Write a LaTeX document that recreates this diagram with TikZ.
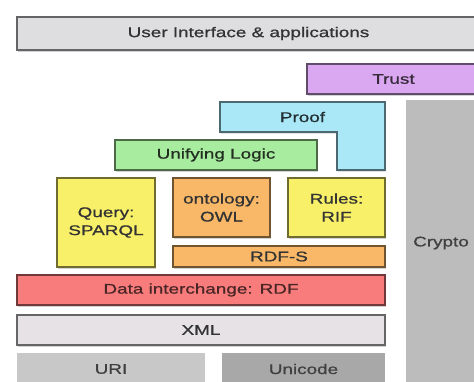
\documentclass[tikz,border=0pt]{standalone}
\usepackage{fontspec}
\setmainfont{Liberation Sans}[FakeStretch=1.35, FakeBold=0.9]
\usepackage{tikz}
\usetikzlibrary{shadows}
\definecolor{UIgray}{RGB}{222,221,224}
\definecolor{TrustLila}{RGB}{218,168,240}
\definecolor{ProofCyan}{RGB}{170,232,248}
\definecolor{LogicGreen}{RGB}{168,236,160}
\definecolor{RuleYellow}{RGB}{248,240,104}
\definecolor{OwlOrange}{RGB}{248,184,104}
\definecolor{RdfRed}{RGB}{248,124,124}
\definecolor{XmlGray}{RGB}{230,226,230}
\definecolor{UriGray}{RGB}{200,200,200}
\definecolor{UniGray}{RGB}{168,168,168}
\definecolor{CryptoGray}{RGB}{188,188,188}

\begin{document}
\begin{tikzpicture}[x=1pt, y=-1pt,
	Schicht/.style={draw=#1!45!black, fill=#1, line width=1.2pt, rectangle, inner sep=0pt, align=center, text=black!80,
		font=\fontsize{14}{18}\selectfont, drop shadow={shadow xshift=0.6pt, shadow yshift=-1.6pt, opacity=0.35}},
	Basis/.style={fill=#1, rectangle, inner sep=0pt, align=center, text=black!75, font=\fontsize{14}{18}\selectfont}]
				\useasboundingbox (0,0) rectangle (474,381);
				\fill[white] (0,0) rectangle (474,381);
				% Seitensaeule
				\fill[CryptoGray] (406,100) rectangle (480,390);
				\node[text=black!75, font=\fontsize{14}{18}\selectfont] (crypto) at (441,243) {Crypto};
				% Schichten von oben nach unten
				\node[Schicht=UIgray, minimum width=463, minimum height=33] (ui) at (248.5,33.5) {User Interface \& applications};
				\node[Schicht=TrustLila, minimum width=173, minimum height=30, text=TrustLila!25!black] (trust) at (393.5,79) {Trust};
				\draw[draw=ProofCyan!45!black, fill=ProofCyan, line width=1.2pt, drop shadow={shadow xshift=0.6pt, shadow yshift=-1.6pt, opacity=0.35}]
					(220,102) -- (385,102) -- (385,170) -- (337,170) -- (337,132) -- (220,132) -- cycle;
				\node[text=ProofCyan!20!black, font=\fontsize{14}{18}\selectfont] (proof) at (302.5,117) {Proof};
				\node[Schicht=LogicGreen, minimum width=202, minimum height=30, text=LogicGreen!20!black] (logic) at (216,155) {Unifying Logic};
				\node[Schicht=RuleYellow, minimum width=98, minimum height=89] (sparql) at (106,222.5) {Query:\\SPARQL};
				\node[Schicht=OwlOrange, minimum width=97, minimum height=59] (owl) at (221.5,207.5) {ontology:\\OWL};
				\node[Schicht=RuleYellow, minimum width=97, minimum height=59] (rif) at (336.5,207.5) {Rules:\\RIF};
				\node[Schicht=OwlOrange, minimum width=212, minimum height=21] (rdfs) at (279,256.5) {RDF-S};
				\node[Schicht=RdfRed, minimum width=368, minimum height=30, text=RdfRed!30!black] (rdf) at (201,290) {Data interchange: RDF};
				\node[Schicht=XmlGray, minimum width=368, minimum height=30] (xml) at (201,330) {XML};
				\node[Basis=UriGray, minimum width=188, minimum height=32] (uri) at (111,369) {URI};
				\node[Basis=UniGray, minimum width=163, minimum height=32] (unicode) at (303.5,369) {Unicode};
			\end{tikzpicture}
\end{document}
